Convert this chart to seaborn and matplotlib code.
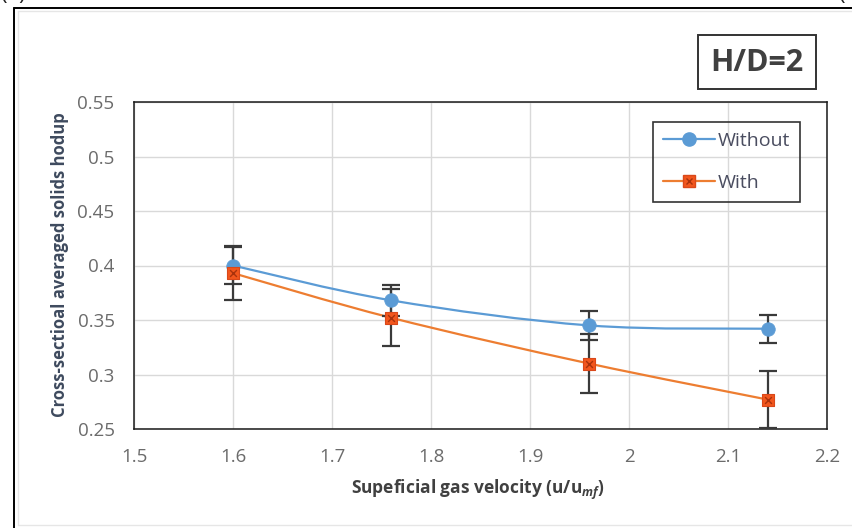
import numpy as np
import pandas as pd
import matplotlib
matplotlib.use("Agg")
import matplotlib.pyplot as plt
from matplotlib.path import Path
from matplotlib.patches import PathPatch, Rectangle
from matplotlib.lines import Line2D
import seaborn as sns

# Superficial gas velocity (u/umf) and cross-sectional averaged solids holdup
velocity = [1.6, 1.76, 1.96, 2.14]
holdup_without = [0.400, 0.368, 0.345, 0.342]
holdup_with = [0.393, 0.352, 0.310, 0.277]
err_without = [0.017, 0.014, 0.013, 0.013]
err_with = [0.025, 0.026, 0.027, 0.026]
series_names = ["Without", "With"]
x_ticks = [1.5, 1.6, 1.7, 1.8, 1.9, 2.0, 2.1, 2.2]
y_ticks = [0.25, 0.3, 0.35, 0.4, 0.45, 0.5, 0.55]

sns.set_theme(style="whitegrid")
plt.rcParams["font.family"] = ["Open Sans", "DejaVu Sans"]
plt.rcParams["mathtext.fontset"] = "custom"
plt.rcParams["mathtext.it"] = "Open Sans:italic:bold"
plt.rcParams["mathtext.rm"] = "Open Sans:bold"

BLUE = "#5B9BD5"
ORANGE = "#ED7D31"
SQ_FILL = "#F2561D"
SQ_EDGE = "#D9481A"
SQ_X = "#A8320C"
ERR = "#3A3A3A"

W, H = 853, 528
fig = plt.figure(figsize=(W / 100, H / 100), dpi=100)
fig.patch.set_facecolor("white")
ax = fig.add_axes([134 / W, 1 - 429 / H, (827 - 134) / W, (429 - 102) / H])

df = pd.DataFrame({
    "velocity": velocity * 2,
    "holdup": holdup_without + holdup_with,
    "err": err_without + err_with,
    "series": [series_names[0]] * len(velocity) + [series_names[1]] * len(velocity),
})


def smooth_path(xs, ys):
    """Cubic Bezier path through the points (Catmull-Rom style smoothing)."""
    pts = np.column_stack([xs, ys]).astype(float)
    ext = np.vstack([pts[0], pts, pts[-1]])
    verts = [pts[0]]
    codes = [Path.MOVETO]
    for i in range(len(pts) - 1):
        p0, p1, p2, p3 = ext[i], ext[i + 1], ext[i + 2], ext[i + 3]
        c1 = p1 + (p2 - p0) / 6.0
        c2 = p2 - (p3 - p1) / 6.0
        verts += [c1, c2, p2]
        codes += [Path.CURVE4] * 3
    return Path(np.array(verts), codes)


# smoothed connecting lines
for name, color in zip(series_names, [BLUE, ORANGE]):
    sub = df[df["series"] == name]
    ax.add_patch(PathPatch(smooth_path(sub["velocity"], sub["holdup"]),
                           facecolor="none", edgecolor=color, lw=1.6,
                           zorder=2, capstyle="round"))

# error bars
for name in series_names:
    sub = df[df["series"] == name]
    ax.errorbar(sub["velocity"], sub["holdup"], yerr=sub["err"], fmt="none",
                ecolor=ERR, elinewidth=1.6, capsize=6.5, capthick=1.6, zorder=3)

# markers
sub_wo = df[df["series"] == "Without"]
sub_w = df[df["series"] == "With"]
sns.scatterplot(data=sub_wo, x="velocity", y="holdup", ax=ax, marker="o", s=95,
                color=BLUE, edgecolor=BLUE, linewidth=0.5, zorder=4, legend=False)
sns.scatterplot(data=sub_w, x="velocity", y="holdup", ax=ax, marker="s", s=70,
                color=SQ_FILL, edgecolor=SQ_EDGE, linewidth=0.8, zorder=4, legend=False)
sns.scatterplot(data=sub_w, x="velocity", y="holdup", ax=ax, marker="x", s=24,
                color=SQ_X, linewidth=1.0, zorder=5, legend=False)

ax.set_xlim(x_ticks[0], x_ticks[-1])
ax.set_ylim(y_ticks[0], y_ticks[-1])
ax.set_xticks(x_ticks)
ax.set_yticks(y_ticks)
ax.set_xticklabels([f"{v:g}" for v in x_ticks])
ax.set_yticklabels([f"{v:g}" for v in y_ticks])
ax.tick_params(axis="both", length=0, labelsize=13.5, labelcolor="#6B6B6B")
ax.tick_params(axis="x", pad=14)
ax.tick_params(axis="y", pad=14)
ax.grid(True, color="#D9D9D9", lw=1.0)
ax.set_axisbelow(True)
ax.set_facecolor("white")
for sp in ax.spines.values():
    sp.set_visible(True)
    sp.set_color("#1A1A1A")
    sp.set_linewidth(1.1)

ax.set_xlabel(r"Supeficial gas velocity (u/u$_{mf}$)", fontsize=12.5,
              fontweight="bold", color="#404040", va="center")
ax.xaxis.set_label_coords((478 - 134) / (827 - 134), -(490 - 429) / (429 - 102))
ax.set_ylabel("Cross-sectioal averaged solids hodup", fontsize=12,
              fontweight="bold", color="#3E4A5E", va="center")
ax.yaxis.set_label_coords((60 - 134) / (827 - 134), (429 - 265) / (429 - 102))

# legend
h_wo = Line2D([], [], color=BLUE, lw=1.6, marker="o", ms=9.5,
              mfc=BLUE, mec=BLUE)
h_w = Line2D([], [], color=ORANGE, lw=1.6, marker="s", ms=8.2,
             mfc=SQ_FILL, mec=SQ_EDGE)
h_wx = Line2D([], [], lw=0, marker="x", ms=4.8, mec=SQ_X, mew=1.0)
leg = ax.legend([h_wo, (h_w, h_wx)], series_names, loc="upper left",
                bbox_to_anchor=(653 / W, 1 - 122 / H), bbox_transform=fig.transFigure,
                fontsize=14, frameon=True, fancybox=False, framealpha=1,
                facecolor="none", edgecolor="#333333", handlelength=2.7,
                handletextpad=0.15, labelspacing=1.25, borderpad=0.5,
                borderaxespad=0)
leg.get_frame().set_linewidth(1.2)
for t in leg.get_texts():
    t.set_color("#4A4D60")

# H/D annotation box
fig.patches.append(Rectangle((698 / W, 1 - 89 / H), (816 - 698) / W, (89 - 35) / H,
                             transform=fig.transFigure, facecolor="white",
                             edgecolor="#333333", lw=1.4, zorder=5))
fig.text(757 / W, 1 - 63 / H, "H/D=2", ha="center", va="center", fontsize=22,
         fontweight="bold", color="#404040", zorder=6)

# panel frame
fig.add_artist(Line2D([14 / W, 1.0], [1 - 8 / H, 1 - 8 / H], transform=fig.transFigure,
                      color="black", lw=1.4))
fig.add_artist(Line2D([14 / W, 14 / W], [0.0, 1 - 8 / H], transform=fig.transFigure,
                      color="black", lw=1.4))
fig.add_artist(Line2D([18 / W, 1.0], [1 - 11 / H, 1 - 11 / H], transform=fig.transFigure,
                      color="#E6E6E6", lw=1.0))
fig.add_artist(Line2D([18 / W, 18 / W], [3 / H, 1 - 11 / H], transform=fig.transFigure,
                      color="#E6E6E6", lw=1.0))
fig.add_artist(Line2D([18 / W, 1.0], [3 / H, 3 / H], transform=fig.transFigure,
                      color="#E6E6E6", lw=1.0))

# panel letters from the surrounding layout
fig.text(0.0, 1.0, "(a)", ha="left", va="baseline", fontsize=16, color="#222222")
fig.text(838 / W, 1.0, "(b)", ha="left", va="baseline", fontsize=16, color="#222222")

fig.savefig("out.png", dpi=100, facecolor="white")
